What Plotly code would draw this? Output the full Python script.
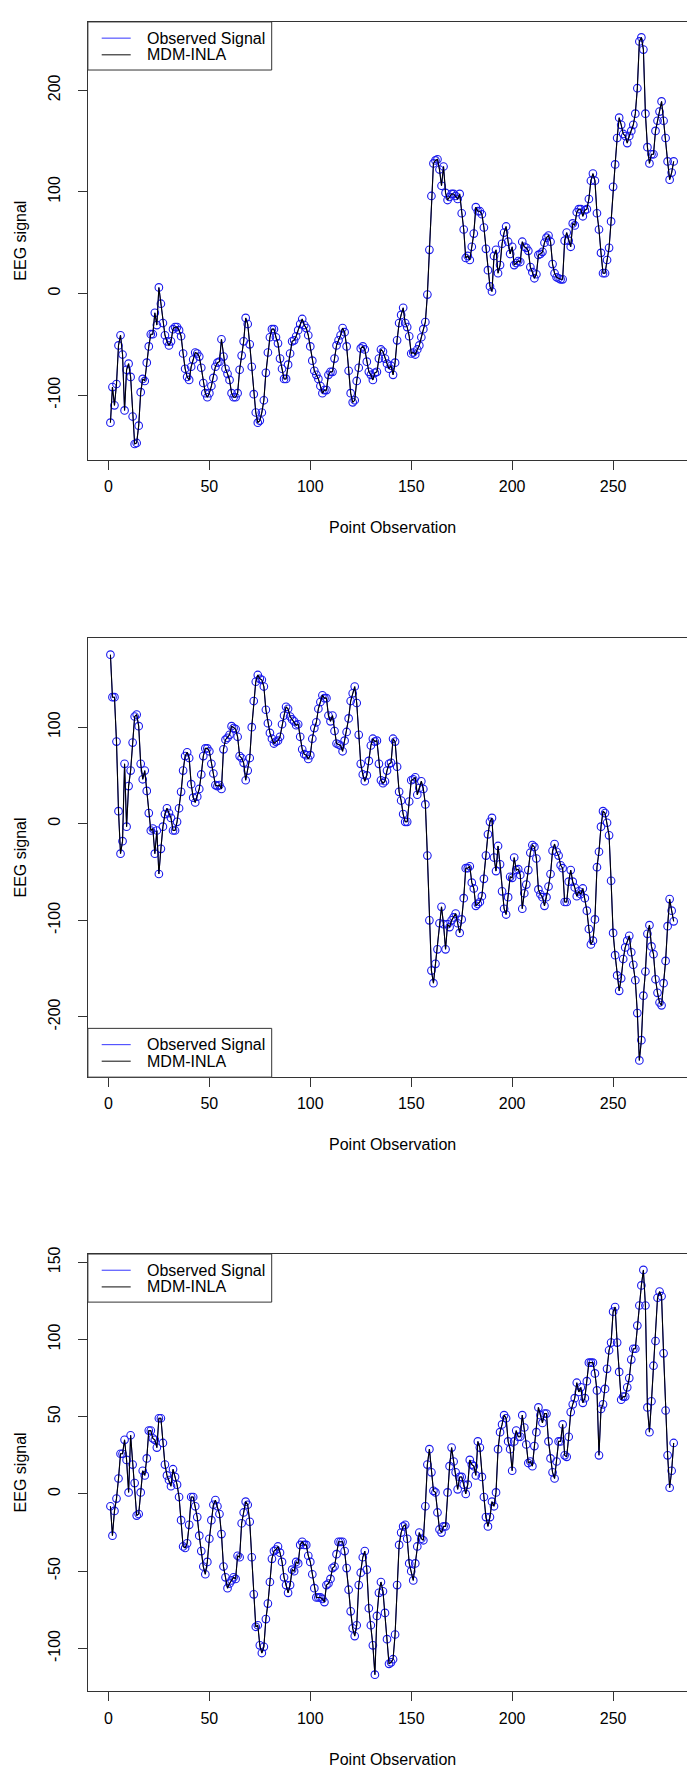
import plotly.graph_objects as go

W, H = 687, 1769

# ---------------- data ----------------
x_ticks = [0, 50, 100, 150, 200, 250]
x_tick_text = ["0", "50", "100", "150", "200", "250"]

obs1 = [-127, -92, -110, -89, -51, -41, -60, -115, -75, -69,
        -82, -121, -148, -147, -130, -97, -84, -86, -68, -52,
        -40, -40, -19, -31, 6, -10, -29, -41, -47, -51,
        -47, -35, -33, -33, -36, -42, -59, -74, -82, -85,
        -72, -65, -58, -59, -62, -73, -88, -98, -102, -98,
        -91, -83, -72, -68, -67, -45, -62, -74, -79, -85,
        -98, -102, -102, -98, -75, -61, -47, -24, -30, -50,
        -72, -99, -117, -127, -125, -117, -105, -78, -58, -43,
        -35, -35, -43, -49, -64, -74, -84, -84, -70, -59,
        -47, -46, -42, -36, -30, -25, -31, -34, -41, -52,
        -66, -76, -80, -84, -91, -98, -95, -95, -80, -77,
        -77, -64, -51, -46, -41, -34, -38, -52, -76, -98,
        -107, -105, -86, -73, -54, -52, -55, -67, -77, -80,
        -85, -78, -77, -64, -55, -57, -64, -69, -74, -71,
        -80, -68, -46, -29, -21, -14, -29, -33, -42, -59,
        -58, -60, -55, -51, -43, -35, -28, -1, 43, 96,
        128, 131, 132, 122, 106, 125, 99, 92, 95, 98,
        98, 96, 93, 98, 79, 63, 35, 37, 33, 46,
        59, 85, 81, 81, 78, 65, 44, 23, 7, 2,
        37, 43, 20, 28, 49, 60, 66, 51, 39, 46,
        28, 30, 32, 31, 51, 46, 45, 42, 26, 21,
        15, 19, 38, 39, 41, 50, 55, 57, 51, 29,
        20, 16, 15, 14, 14, 52, 60, 52, 46, 69,
        67, 80, 83, 83, 76, 82, 83, 93, 111, 118,
        111, 79, 63, 40, 20, 20, 33, 45, 71, 105,
        127, 153, 173, 166, 157, 155, 148, 155, 160, 166,
        177, 202, 248, 252, 240, 177, 144, 128, 137, 137,
        160, 170, 179, 189, 170, 153, 130, 112, 119, 130]

obs2 = [175, 131, 131, 85, 13, -31, -18, 62, -3, 39,
        55, 84, 111, 113, 101, 62, 46, 55, 34, 11,
        -7, -5, -31, -7, -52, -26, -3, 10, 16, 11,
        6, -7, -7, 2, 16, 33, 55, 70, 74, 68,
        41, 27, 22, 28, 36, 51, 70, 78, 78, 75,
        62, 52, 40, 39, 40, 36, 77, 87, 89, 92,
        101, 99, 98, 90, 70, 68, 63, 45, 55, 68,
        100, 127, 147, 154, 150, 149, 142, 118, 104, 94,
        88, 83, 85, 86, 90, 103, 112, 121, 119, 111,
        108, 106, 102, 103, 90, 77, 72, 71, 67, 71,
        88, 99, 105, 119, 126, 133, 130, 130, 112, 106,
        112, 96, 83, 82, 81, 75, 86, 95, 109, 127,
        135, 142, 125, 92, 62, 51, 44, 50, 65, 81,
        88, 85, 86, 62, 45, 42, 44, 55, 62, 63,
        88, 85, 59, 33, 24, 10, 2, 2, 23, 45,
        46, 48, 30, 37, 44, 36, 20, -33, -100, -152,
        -165, -145, -130, -103, -86, -104, -130, -104, -107, -100,
        -97, -93, -103, -113, -99, -77, -46, -46, -44, -61,
        -67, -85, -83, -81, -75, -57, -33, -11, 2, 6,
        -35, -49, -23, -42, -70, -88, -94, -76, -55, -56,
        -35, -48, -47, -53, -88, -72, -63, -48, -30, -22,
        -24, -36, -68, -73, -76, -85, -76, -65, -52, -28,
        -21, -29, -33, -43, -46, -81, -81, -60, -48, -60,
        -66, -75, -70, -73, -67, -77, -90, -109, -125, -121,
        -99, -45, -29, -3, 13, 11, 1, -12, -59, -113,
        -136, -157, -173, -160, -140, -128, -121, -116, -133, -146,
        -162, -196, -245, -224, -178, -153, -114, -105, -127, -135,
        -161, -175, -185, -188, -165, -142, -106, -78, -90, -101]

obs3 = [-8, -27, -11, -3, 10, 26, 26, 35, 22, 1,
        38, 19, 7, -14, -13, 1, 15, 12, 23, 41,
        41, 36, 35, 30, 49, 49, 33, 19, 12, 9,
        5, 16, 11, 6, -2, -17, -34, -35, -32, -20,
        -2, -2, -8, -15, -27, -37, -47, -52, -44, -29,
        -17, -7, -4, -8, -13, -26, -47, -54, -61, -58,
        -56, -54, -55, -40, -41, -19, -12, -5, -7, -18,
        -41, -65, -86, -85, -98, -103, -99, -81, -71, -57,
        -42, -37, -36, -34, -38, -44, -54, -59, -64, -59,
        -49, -50, -44, -45, -33, -31, -33, -33, -40, -44,
        -52, -61, -67, -67, -67, -68, -70, -59, -58, -55,
        -48, -47, -39, -31, -31, -31, -37, -48, -62, -76,
        -87, -92, -85, -59, -51, -41, -37, -49, -74, -85,
        -98, -117, -79, -64, -57, -63, -77, -94, -110, -109,
        -107, -91, -59, -33, -25, -21, -20, -29, -45, -50,
        -56, -45, -34, -25, -29, -30, -8, 19, 29, 14,
        2, 1, -12, -23, -25, -21, -21, 1, 18, 30,
        21, 14, 3, 11, 11, 6, 0, 6, 22, 19,
        18, 12, 34, 30, 11, -2, -15, -21, -15, -5,
        -8, 1, 29, 40, 45, 51, 49, 34, 29, 15,
        34, 41, 37, 37, 51, 43, 32, 20, 21, 18,
        31, 40, 56, 51, 46, 52, 52, 34, 23, 14,
        10, 21, 34, 34, 45, 25, 24, 37, 53, 58,
        62, 72, 66, 69, 59, 62, 73, 85, 85, 85,
        78, 67, 25, 55, 58, 68, 81, 93, 98, 118,
        121, 98, 79, 61, 63, 63, 69, 75, 87, 94,
        94, 109, 122, 135, 145, 122, 56, 40, 60, 83,
        99, 127, 131, 128, 91, 54, 25, 4, 15, 33]

y_ticks1 = [-100, 0, 100, 200]
y_ticks2 = [-200, -100, 0, 100]
y_ticks3 = [-100, -50, 0, 50, 100, 150]

legend_labels = ["Observed Signal", "MDM-INLA"]
x_title = "Point Observation"
y_title = "EEG signal"

# ---------------- style / layout ----------------
FONT = "Liberation Sans, Arial, Helvetica, sans-serif"
FS = 16
AX = "#333333"
BLUE = "#1a1aee"


def px(x):
    return x / W


def py(y):
    return 1 - y / H


PLOT_LEFT = 87.9
X_RANGE = [-10.16, 286.6]

panels = [
    dict(obs=obs1, fit=obs1, yt=y_ticks1, yr=[-163.7, 267.2], top=14.0, bottom=454.0, leg="top"),
    dict(obs=obs2, fit=obs2, yt=y_ticks2, yr=[-262.3, 191.8], top=633.3, bottom=1074.0, leg="bottom"),
    dict(obs=obs3, fit=obs3, yt=y_ticks3, yr=[-127.8, 155.3], top=1251.7, bottom=1691.0, leg="top"),
]

fig = go.Figure()
shapes = []
annotations = []
layout = dict(
    width=W, height=H,
    margin=dict(l=0, r=0, t=0, b=0),
    paper_bgcolor="white", plot_bgcolor="white",
    showlegend=False,
    font=dict(family=FONT, size=FS, color="black"),
)

for k, p in enumerate(panels, start=1):
    sfx = "" if k == 1 else str(k)
    xs = list(range(1, len(p["obs"]) + 1))
    xa, ya = "x" + sfx, "y" + sfx
    fig.add_trace(go.Scatter(x=xs, y=p["obs"], mode="lines", xaxis=xa, yaxis=ya,
                             line=dict(color=BLUE, width=1), hoverinfo="skip"))
    fig.add_trace(go.Scatter(x=xs, y=p["obs"], mode="markers", xaxis=xa, yaxis=ya,
                             marker=dict(symbol="circle-open", size=7.6, color=BLUE,
                                         line=dict(width=1.1, color=BLUE))))
    fig.add_trace(go.Scatter(x=xs, y=p["fit"], mode="lines", xaxis=xa, yaxis=ya,
                             line=dict(color="black", width=1.1)))

    dom_y = [py(p["bottom"]), py(p["top"])]
    layout["xaxis" + sfx] = dict(
        domain=[px(PLOT_LEFT), 1], range=X_RANGE, anchor=ya,
        tickvals=x_ticks, ticktext=x_tick_text,
        ticks="outside", ticklen=9, tickwidth=1, tickcolor=AX,
        showline=True, linecolor=AX, linewidth=1, mirror=True,
        showgrid=False, zeroline=False,
        tickfont=dict(family=FONT, size=FS, color="black"),
        ticklabelstandoff=3,
    )
    layout["yaxis" + sfx] = dict(
        domain=dom_y, range=p["yr"], anchor=xa,
        tickvals=p["yt"], ticktext=[str(v) for v in p["yt"]],
        tickangle=-90,
        ticks="outside", ticklen=9, tickwidth=1, tickcolor=AX,
        showline=True, linecolor=AX, linewidth=1, mirror=False,
        showgrid=False, zeroline=False,
        tickfont=dict(family=FONT, size=FS, color="black"),
        ticklabelstandoff=12,
    )

    # axis titles
    annotations.append(dict(text=x_title, x=px(392), y=py(p["bottom"] + 68),
                            xref="paper", yref="paper", showarrow=False,
                            xanchor="center", yanchor="middle",
                            font=dict(family=FONT, size=FS, color="black")))
    annotations.append(dict(text=y_title, x=px(20.7), y=py((p["top"] + p["bottom"]) / 2),
                            xref="paper", yref="paper", showarrow=False, textangle=-90,
                            xanchor="center", yanchor="middle",
                            font=dict(family=FONT, size=FS, color="black")))

    # legend box
    if p["leg"] == "top":
        b_top, b_bot = p["top"], p["top"] + 48.3
    else:
        b_top, b_bot = p["bottom"] - 49.0, p["bottom"]
    l1 = b_top + 16.3
    l2 = b_top + 33.0
    shapes.append(dict(type="rect", xref="paper", yref="paper",
                       x0=px(PLOT_LEFT), x1=px(271.7), y0=py(b_bot), y1=py(b_top),
                       line=dict(color=AX, width=1), fillcolor="white", layer="above"))
    for yy, col, lab in [(l1, "#5555ff", legend_labels[0]), (l2, "#333333", legend_labels[1])]:
        shapes.append(dict(type="line", xref="paper", yref="paper",
                           x0=px(101.7), x1=px(130.7), y0=py(yy), y1=py(yy),
                           line=dict(color=col, width=1.2), layer="above"))
        annotations.append(dict(text=lab, x=px(145), y=py(yy), xref="paper", yref="paper",
                                showarrow=False, xanchor="left", yanchor="middle",
                                font=dict(family=FONT, size=FS, color="black")))

layout["shapes"] = shapes
layout["annotations"] = annotations
fig.update_layout(**layout)
fig.write_html("out.html")
